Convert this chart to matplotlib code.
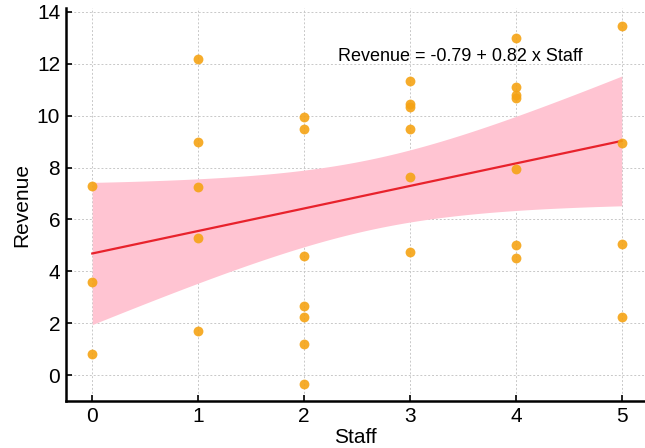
import numpy as np
import matplotlib
matplotlib.use("Agg")
import matplotlib.pyplot as plt

plt.rcParams['font.family'] = ['Liberation Sans', 'DejaVu Sans']

# staff count and revenue for each observation
staff = [0, 0, 0,
         1, 1, 1, 1, 1,
         2, 2, 2, 2, 2, 2, 2,
         3, 3, 3, 3, 3, 3,
         4, 4, 4, 4, 4, 4, 4,
         5, 5, 5, 5]
revenue = [7.3, 3.6, 0.8,
           12.2, 9.0, 7.25, 5.3, 1.7,
           9.95, 9.5, 4.6, 2.65, 2.25, 1.2, -0.35,
           11.35, 10.45, 10.35, 9.5, 7.65, 4.75,
           13.0, 11.1, 10.8, 10.7, 7.95, 5.0, 4.5,
           13.45, 8.95, 5.05, 2.25]
equation = "Revenue = -0.79 + 0.82 x Staff"

x = np.array(staff, dtype=float)
y = np.array(revenue, dtype=float)

# least squares fit with 95% confidence band
slope, intercept = np.polyfit(x, y, 1)
xs = np.linspace(x.min(), x.max(), 100)
fit = intercept + slope * xs
n = len(x)
resid = y - (intercept + slope * x)
s = np.sqrt(np.sum(resid ** 2) / (n - 2))
sxx = np.sum((x - x.mean()) ** 2)
tval = 2.04
half = tval * s * np.sqrt(1.0 / n + (xs - x.mean()) ** 2 / sxx)

fig = plt.figure(figsize=(6.45, 4.48), dpi=100)
ax = fig.add_axes([0.102, 0.105, 0.898, 0.877])

ax.fill_between(xs, fit - half, fit + half, color='#ffc4d2', lw=0, zorder=1)
ax.scatter(x, y, s=50, color='#f5a314', alpha=0.9, lw=0, zorder=3)
ax.plot(xs, fit, color='#e8222c', lw=1.6, zorder=2)

ax.text(2.32, 12.28, equation, fontsize=13, va='center', ha='left')

ax.set_xlim(-0.25, 5.22)
ax.set_ylim(-1.0, 14.15)
ax.set_xticks(range(0, 6))
ax.set_yticks(range(0, 15, 2))
ax.grid(True, ls=(0, (2, 2)), color='#c8c8c8', lw=0.7)
ax.set_axisbelow(True)

for side in ['top', 'right']:
    ax.spines[side].set_visible(False)
for side in ['left', 'bottom']:
    ax.spines[side].set_linewidth(1.8)
ax.tick_params(direction='in', length=4, width=1.2, labelsize=15, pad=4)

ax.set_xlabel('Staff', fontsize=15, labelpad=2)
ax.set_ylabel('Revenue', fontsize=15, labelpad=4)

fig.savefig('out.png', dpi=100)
